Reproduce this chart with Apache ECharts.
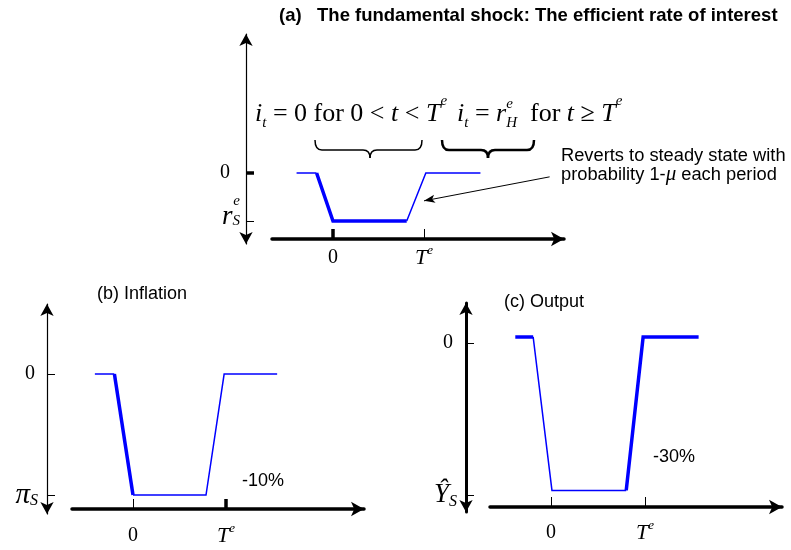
<!DOCTYPE html>
<html>
<head>
<meta charset="utf-8">
<script src="https://cdn.jsdelivr.net/npm/echarts@6/dist/echarts.min.js"></script>
<style>
  html, body { margin: 0; background: #fff; }
  #chart { width: 791px; height: 550px; }
</style>
</head>
<body>
<div id="chart"></div>
<script>
const SERIF = 'Liberation Serif';
const SANS = 'Liberation Sans';
const BLUE = '#0000ff';

// time: 0 = shock hits, T^e = 10
const xTicks = [0, 10];
const yTicks = [0, -1];

// (a) efficient rate of interest, steady state 0, crisis level r^e_S = -1
const shockPre = [[-4.0, 0], [-1.8, 0]];
const shockDrop = [[-1.8, 0], [0, -1], [8.1, -1]];
const shockBack = [[8.1, -1], [10.2, 0], [16.2, 0]];

// (b) inflation, pi_S = -1 (= -10%)
const inflPre = [[-4.1, 0], [-2.0, 0]];
const inflDrop = [[-2.0, 0], [0, -1]];
const inflBack = [[0, -1], [7.85, -1], [9.8, 0], [15.5, 0]];

// (c) output, Y_S = -1 (= -30%)
const outPre = [[-3.8, 0.04], [-1.9, 0.04]];
const outDrop = [[-1.9, 0.04], [0.1, -0.97], [8.0, -0.97]];
const outBack = [[8.0, -0.97], [9.8, 0.04], [15.7, 0.04]];

// annotation arrow in (a): from the note to the rising leg
const noteArrow = [[23.8, -0.08], [10.0, -0.58]];

const chart = echarts.init(document.getElementById('chart'), null, { renderer: 'canvas' });

const xRich = {
  n: { fontFamily: SERIF, fontSize: 20, lineHeight: 28, color: '#000' },
  t: { fontFamily: SERIF, fontStyle: 'italic', fontSize: 22, lineHeight: 28, color: '#000' },
  e: { fontFamily: SERIF, fontStyle: 'italic', fontSize: 13, lineHeight: 13, verticalAlign: 'top', color: '#000' }
};

function timeAxis(grid, range, offset, width, thinTicks, margin) {
  return {
    type: 'value', gridIndex: grid, min: range[0], max: range[1], offset, position: 'bottom',
    axisLine: {
      show: true, onZero: false, symbol: ['none', 'arrow'], symbolSize: [11, 13],
      lineStyle: { color: '#000', width }
    },
    axisTick: { show: true, inside: true, length: 10, customValues: thinTicks, lineStyle: { color: '#000', width: 1 } },
    axisLabel: {
      show: true, margin, customValues: xTicks, rich: xRich,
      formatter: (v) => (v === 0 ? '{n|0}' : '{t|T}{e|e}')
    },
    splitLine: { show: false }
  };
}

// second axis on the same spot that only carries the heavy tick marks
function boldTick(grid, range, offset, values, len, type) {
  return {
    type: 'value', gridIndex: grid, min: range[0], max: range[1], offset,
    position: type === 'y' ? 'left' : 'bottom',
    axisLine: { show: false, onZero: false },
    axisTick: { show: true, inside: true, length: len, customValues: values, lineStyle: { color: '#000', width: 3.5 } },
    axisLabel: { show: false },
    splitLine: { show: false }
  };
}

function levelAxis(grid, range, offset, width, thinTicks, margin, labels, rich) {
  return {
    type: 'value', gridIndex: grid, min: range[0], max: range[1], offset, position: 'left',
    axisLine: {
      show: true, onZero: false, symbol: ['arrow', 'arrow'], symbolSize: [10, 12],
      lineStyle: { color: '#000', width }
    },
    axisTick: { show: true, inside: true, length: 8, customValues: thinTicks, lineStyle: { color: '#000', width: 1 } },
    axisLabel: {
      show: true, margin, customValues: yTicks, rich,
      formatter: (v) => (v === 0 ? labels[0] : labels[1])
    },
    splitLine: { show: false }
  };
}

const zeroStyle = (pad) => ({ fontFamily: SERIF, fontSize: 20, color: '#000', padding: [0, pad, 0, 0] });
const subStyle = { fontFamily: SERIF, fontStyle: 'italic', fontSize: 16, lineHeight: 16, verticalAlign: 'bottom', color: '#000' };

const rangeA = { x: [-6.70, 25.38], y: [-1.479, 2.896] };
const rangeB = { x: [-6.56, 24.84], y: [-1.157, 0.579] };
const rangeC = { x: [-6.49, 24.57], y: [-1.112, 0.263] };

const xAxis = [
  timeAxis(0, rangeA.x, -5, 3.5, [10], 5),
  boldTick(0, rangeA.x, -5, [0], 10, 'x'),
  timeAxis(1, rangeB.x, -5, 3.5, [0], 13),
  boldTick(1, rangeB.x, -5, [10], 10, 'x'),
  timeAxis(2, rangeC.x, -5, 3.5, [0, 10], 12)
];

const yAxis = [
  levelAxis(0, rangeA.y, 26, 1.2, [-1], 6, ['{n|0}', '{e|e}\n{r|r}{s|S}\n{g| }'], {
    n: zeroStyle(10),
    e: { fontFamily: SERIF, fontStyle: 'italic', fontSize: 15, lineHeight: 8, color: '#000' },
    r: { fontFamily: SERIF, fontStyle: 'italic', fontSize: 27, lineHeight: 24, color: '#000' },
    s: { fontFamily: SERIF, fontStyle: 'italic', fontSize: 15, lineHeight: 15, verticalAlign: 'bottom', color: '#000' },
    g: { fontSize: 1, lineHeight: 16 }
  }),
  boldTick(0, rangeA.y, 26, [0], 8, 'y'),
  levelAxis(1, rangeB.y, 25, 1.2, [0, -1], 9, ['{n|0}', '{p|π}{s|S}'], {
    n: zeroStyle(3),
    p: { fontFamily: SERIF, fontStyle: 'italic', fontSize: 29, lineHeight: 28, color: '#000' },
    s: subStyle
  }),
  levelAxis(2, rangeC.y, 24, 3, [0, -1], 9, ['{n|0}', '{y|Ŷ}{s|S}'], {
    n: zeroStyle(4),
    y: { fontFamily: SERIF, fontStyle: 'italic', fontSize: 27, lineHeight: 30, color: '#000' },
    s: subStyle
  })
];

function seg(xi, yi, data, width, extra) {
  return Object.assign({
    type: 'line', xAxisIndex: xi, yAxisIndex: yi, data,
    symbol: 'none', showSymbol: false, silent: true, animation: false,
    lineStyle: { color: BLUE, width, join: 'miter', cap: 'butt' }, z: 3
  }, extra || {});
}

const series = [
  seg(0, 0, shockPre, 1.5, {
    markLine: {
      silent: true, animation: false, symbol: ['none', 'arrow'], symbolSize: [6, 11],
      label: { show: false },
      lineStyle: { color: '#000', width: 1, type: 'solid' },
      emphasis: { disabled: true },
      data: [[{ coord: noteArrow[0] }, { coord: noteArrow[1] }]]
    }
  }),
  seg(0, 0, shockDrop, 3.5),
  seg(0, 0, shockBack, 1.5),
  seg(2, 2, inflPre, 1.5),
  seg(2, 2, inflDrop, 3.5),
  seg(2, 2, inflBack, 1.5),
  seg(4, 3, outPre, 3.5),
  seg(4, 3, outDrop, 1.5),
  seg(4, 3, outBack, 3.5)
];

// formula pieces laid out token by token so that sub/superscripts sit right
const ctx = document.createElement('canvas').getContext('2d');
function mathRow(x, baseline, tokens) {
  const out = [];
  let cx = x;
  tokens.forEach(([txt, size, italic, shift, stay]) => {
    const font = (italic ? 'italic ' : '') + size + 'px "' + SERIF + '"';
    ctx.font = font;
    out.push({
      type: 'text', x: cx, y: baseline + shift - 0.32 * size, silent: true,
      style: { text: txt, font, fill: '#000', align: 'left', verticalAlign: 'middle' }
    });
    if (!stay) cx += ctx.measureText(txt).width;
  });
  return out;
}

const formula = [].concat(
  mathRow(255, 122, [
    ['i', 26, 1, 0], ['t', 15, 1, 6], [' = 0 for 0 < ', 26, 0, 0], ['t', 26, 1, 0],
    [' < ', 26, 0, 0], ['T', 26, 1, 0], ['e', 15, 1, -16]
  ]),
  mathRow(457, 122, [
    ['i', 26, 1, 0], ['t', 15, 1, 6], [' = ', 26, 0, 0], ['r', 26, 1, 0],
    ['e', 15, 1, -13, true], ['H', 15, 1, 6], ['  for ', 26, 0, 0], ['t', 26, 1, 0],
    [' ≥ ', 26, 0, 0], ['T', 26, 1, 0], ['e', 15, 1, -16]
  ])
);

// curly brace under a formula part, built from curves and straight runs
function brace(x0, x1, xm, top, mid, tip, w) {
  const st = { fill: 'none', stroke: '#000', lineWidth: w };
  const q = (a, b, c, d, cx, cy) => ({ type: 'bezierCurve', silent: true, shape: { x1: a, y1: b, x2: c, y2: d, cpx1: cx, cpy1: cy }, style: st });
  const l = (a, b, c, d) => ({ type: 'line', silent: true, shape: { x1: a, y1: b, x2: c, y2: d }, style: st });
  return {
    type: 'group', silent: true,
    children: [
      q(x0, top, x0 + 7, mid, x0, mid),
      l(x0 + 7, mid, xm - 7, mid),
      q(xm - 7, mid, xm, tip, xm, mid),
      q(xm, tip, xm + 7, mid, xm, mid),
      l(xm + 7, mid, x1 - 7, mid),
      q(x1 - 7, mid, x1, top, x1, mid)
    ]
  };
}

const txt = (x, y, text, font, extra) => ({
  type: 'text', x, y, silent: true,
  style: Object.assign({ text, font, fill: '#000', align: 'left', verticalAlign: 'middle' }, extra || {})
});

const graphic = [
  txt(279, 16, '(a)   The fundamental shock: The efficient rate of interest', 'bold 18.5px "' + SANS + '"'),
  txt(97, 294, '(b) Inflation', '18px "' + SANS + '"'),
  txt(504, 302, '(c) Output', '18px "' + SANS + '"'),
  txt(242, 481, '-10%', '18px "' + SANS + '"'),
  txt(653, 457, '-30%', '18px "' + SANS + '"'),
  txt(561, 165, 'Reverts to steady state with\nprobability 1-{m|μ} each period', '18.3px "' + SANS + '"', {
    lineHeight: 19,
    rich: { m: { fontFamily: SERIF, fontStyle: 'italic', fontSize: 21, lineHeight: 19 } }
  }),
  brace(315, 422, 370, 140, 150, 158, 1.5),
  brace(442, 534, 488, 140, 150, 158, 2.5)
].concat(formula);

chart.setOption({
  animation: false,
  textStyle: { fontFamily: SERIF },
  grid: [
    { left: 272, top: 34, width: 292, height: 210, outerBoundsMode: 'none' },
    { left: 72, top: 304, width: 292, height: 210, outerBoundsMode: 'none' },
    { left: 490, top: 303, width: 292, height: 209, outerBoundsMode: 'none' }
  ],
  xAxis,
  yAxis,
  series,
  graphic
});
</script>
</body>
</html>
